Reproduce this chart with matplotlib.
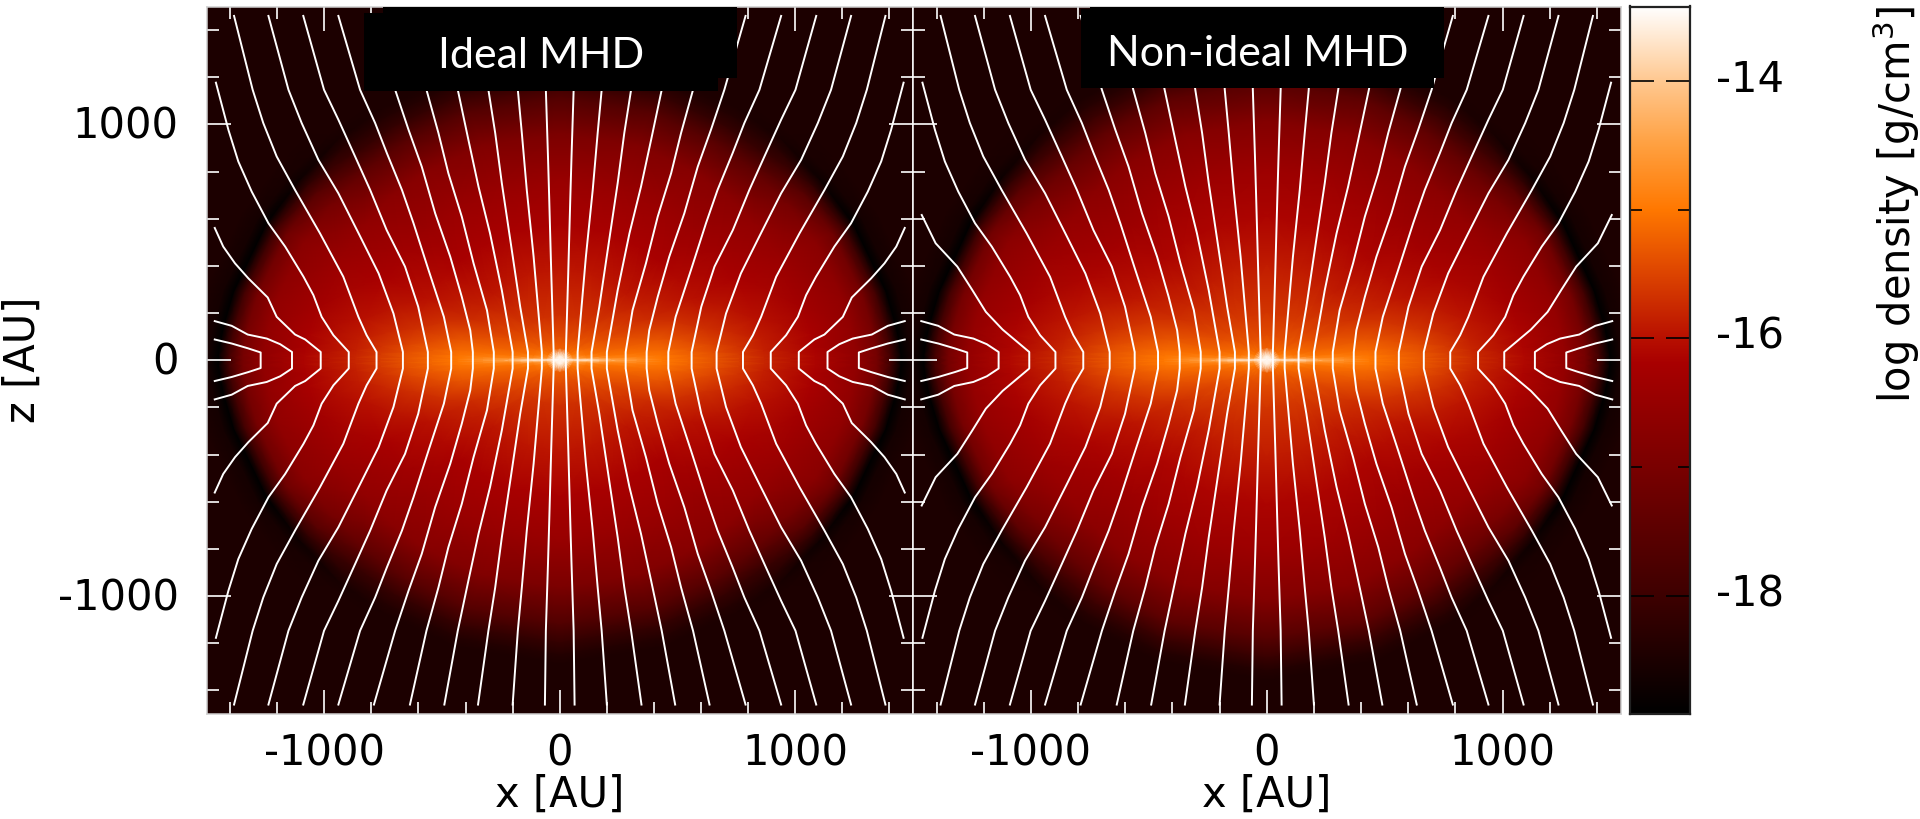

import numpy as np
import matplotlib
matplotlib.use('Agg')
from matplotlib import pyplot as plt
from matplotlib.colors import LinearSegmentedColormap
from matplotlib.patches import Rectangle
from matplotlib.ticker import MultipleLocator
from matplotlib.transforms import ScaledTranslation

plt.rcParams['axes.unicode_minus'] = False

panel_titles = ['Ideal MHD', 'Non-ideal MHD']
x_label = 'x [AU]'
z_label = 'z [AU]'
cbar_label = 'log density [g/cm$^{3}$]'
major_ticks = [-1000, 0, 1000]
cbar_ticks = [-18, -16, -14]
cbar_minor = [-17, -15]
vmin, vmax = -18.92, -13.42

# colour bar: log density, colour
cmap_levels = [-18.92, -18.5, -18.0, -17.0, -16.2, -16.0, -15.5, -15.0, -14.5, -14.0, -13.42]
cmap_colors = ['#000000', '#1c0000', '#3e0000', '#7a0000', '#a80000', '#b81000',
               '#dd4400', '#ff7800', '#ffa040', '#ffc890', '#ffffff']

# density table, one quadrant, angle above the midplane (deg) and radius as a
# fraction of the dark shell radius
angles = [0, 1, 3, 6, 12, 25, 35, 45, 55, 70, 90]
fractions = [0, .015, .04, .08, .15, .3, .45, .6, .75, .87, .93, .97, 1, 1.03, 1.08, 1.7]
shell_ideal = [1450, 1450, 1445, 1435, 1416, 1375, 1345, 1330, 1310, 1295, 1290]
shell_nonideal = [1455, 1455, 1450, 1440, 1420, 1385, 1365, 1360, 1360, 1360, 1360]
rho_ideal = [
    [-13.4, -13.45, -13.55, -13.7, -14.4, -15.0, -15.35, -15.8, -16.15, -16.6, -17.1, -18.0, -18.9, -18.6, -18.5, -18.5],
    [-13.4, -13.45, -13.6, -13.75, -14.5, -15.0, -15.35, -15.8, -16.15, -16.6, -17.1, -18.0, -18.9, -18.6, -18.5, -18.5],
    [-13.4, -13.5, -13.9, -14.2, -14.85, -15.05, -15.4, -15.85, -16.2, -16.6, -17.1, -18.0, -18.9, -18.6, -18.5, -18.5],
    [-13.4, -13.5, -14.3, -14.8, -15.05, -15.15, -15.5, -15.9, -16.2, -16.6, -17.1, -18.0, -18.9, -18.6, -18.5, -18.5],
    [-13.4, -13.55, -14.7, -15.05, -15.2, -15.35, -15.7, -16.0, -16.3, -16.6, -17.1, -18.0, -18.9, -18.6, -18.5, -18.5],
    [-13.4, -13.6, -15.0, -15.2, -15.4, -15.75, -16.0, -16.2, -16.45, -16.75, -17.2, -18.05, -18.9, -18.6, -18.5, -18.5],
    [-13.4, -13.65, -15.1, -15.3, -15.5, -15.85, -16.1, -16.35, -16.6, -17.1, -17.6, -18.2, -18.7, -18.55, -18.5, -18.5],
    [-13.4, -13.65, -15.15, -15.35, -15.6, -15.95, -16.2, -16.45, -16.75, -17.5, -18.1, -18.35, -18.55, -18.5, -18.5, -18.5],
    [-13.4, -13.65, -15.2, -15.4, -15.65, -15.95, -16.2, -16.45, -16.8, -17.6, -18.15, -18.4, -18.5, -18.5, -18.5, -18.5],
    [-13.4, -13.65, -15.25, -15.45, -15.7, -15.95, -16.2, -16.5, -16.9, -17.65, -18.15, -18.4, -18.5, -18.5, -18.5, -18.5],
    [-13.4, -13.65, -15.25, -15.45, -15.7, -15.95, -16.2, -16.5, -17.0, -17.7, -18.15, -18.4, -18.5, -18.5, -18.5, -18.5],
]
rho_nonideal = [
    [-13.4, -13.45, -13.55, -13.7, -14.4, -15.0, -15.3, -15.75, -16.1, -16.55, -17.1, -18.0, -18.9, -18.6, -18.5, -18.5],
    [-13.4, -13.45, -13.6, -13.75, -14.5, -15.0, -15.3, -15.75, -16.1, -16.55, -17.1, -18.0, -18.9, -18.6, -18.5, -18.5],
    [-13.4, -13.5, -13.9, -14.2, -14.85, -15.05, -15.35, -15.8, -16.15, -16.55, -17.1, -18.0, -18.9, -18.6, -18.5, -18.5],
    [-13.4, -13.5, -14.3, -14.8, -15.05, -15.15, -15.45, -15.85, -16.15, -16.55, -17.1, -18.0, -18.9, -18.6, -18.5, -18.5],
    [-13.4, -13.55, -14.7, -15.05, -15.2, -15.35, -15.65, -15.95, -16.25, -16.55, -17.1, -18.0, -18.9, -18.6, -18.5, -18.5],
    [-13.4, -13.6, -15.0, -15.2, -15.4, -15.7, -15.95, -16.15, -16.4, -16.7, -17.15, -18.05, -18.9, -18.6, -18.5, -18.5],
    [-13.4, -13.65, -15.1, -15.3, -15.5, -15.8, -16.05, -16.3, -16.55, -17.05, -17.55, -18.2, -18.7, -18.55, -18.5, -18.5],
    [-13.4, -13.65, -15.15, -15.35, -15.55, -15.9, -16.15, -16.4, -16.7, -17.35, -17.95, -18.3, -18.55, -18.5, -18.5, -18.5],
    [-13.4, -13.65, -15.2, -15.4, -15.6, -15.9, -16.15, -16.4, -16.75, -17.45, -18.05, -18.35, -18.5, -18.5, -18.5, -18.5],
    [-13.4, -13.65, -15.25, -15.45, -15.65, -15.9, -16.15, -16.4, -16.8, -17.5, -18.1, -18.4, -18.5, -18.5, -18.5, -18.5],
    [-13.4, -13.65, -15.25, -15.45, -15.65, -15.9, -16.15, -16.4, -16.85, -17.6, -18.1, -18.4, -18.5, -18.5, -18.5, -18.5],
]

# field lines, upper right quadrant only, from the top down to the midplane
line_x = [
    [63, 59, 50, 45, 36, 26, 26],
    [200, 178, 161, 140, 111, 76, 76],
    [347, 303, 274, 246, 210, 168, 135, 135],
    [490, 433, 388, 345, 296, 246, 200, 200],
    [636, 566, 515, 473, 416, 366, 309, 280, 280],
    [789, 699, 642, 586, 529, 465, 416, 380, 369, 369],
    [940, 848, 784, 734, 670, 621, 557, 492, 461, 461],
    [1089, 1001, 940, 869, 805, 735, 657, 601, 560, 560],
    [1237, 1152, 1096, 1025, 940, 847, 769, 706, 666, 666],
    [1383, 1304, 1259, 1202, 1124, 1018, 919, 855, 820, 778, 778],
    [1460, 1407, 1365, 1308, 1237, 1166, 1088, 1046, 1011, 961, 896, 896],
    [1465, 1429, 1379, 1322, 1240, 1202, 1124, 1081, 1015, 1015],
    [1465, 1393, 1325, 1244, 1187, 1137, 1137],
    [1465, 1393, 1322, 1270, 1270],
]
line_z = [
    [1460, 1147, 864, 694, 368, 35, 0],
    [1460, 1147, 963, 722, 439, 35, 0],
    [1460, 1147, 963, 751, 510, 227, 35, 0],
    [1460, 1147, 935, 736, 538, 297, 35, 0],
    [1460, 1147, 963, 793, 609, 411, 212, 35, 0],
    [1460, 1147, 977, 821, 623, 439, 269, 127, 35, 0],
    [1460, 1147, 1006, 878, 722, 581, 382, 184, 35, 0],
    [1460, 1147, 1020, 864, 722, 552, 397, 227, 35, 0],
    [1460, 1147, 1006, 850, 708, 524, 368, 198, 35, 0],
    [1460, 1147, 1006, 864, 722, 538, 354, 184, 106, 35, 0],
    [1177, 977, 843, 715, 581, 482, 354, 276, 184, 106, 35, 0],
    [561, 482, 411, 347, 266, 184, 109, 88, 35, 0],
    [166, 146, 109, 92, 68, 35, 0],
    [88, 71, 50, 33, 0],
]
# the one line that differs in the non-ideal run
line12_x_nonideal = [1463, 1404, 1312, 1250, 1191, 1120, 1007, 1007]
line12_z_nonideal = [616, 496, 397, 300, 205, 130, 35, 0]

W, H = 1920.0, 819.0
TICK = '#ffffff'
FRAME = '#cfcfcf'
FS = 30


def px_axes(l, t, r, b):
    # axes from pixel edges
    return fig.add_axes([l / W, 1 - b / H, (r - l) / W, (b - t) / H])


def shift_up(labels, px):
    for lbl in labels:
        lbl.set_transform(lbl.get_transform() + ScaledTranslation(0, px / 100.0, fig.dpi_scale_trans))


def draw_panel(ax, rho, shell, lx, lz):
    rho = np.array(rho)
    th = np.radians(angles)
    rr = np.outer(shell, fractions)
    X = rr * np.cos(th)[:, None]
    Z = rr * np.sin(th)[:, None]
    for sx in (1, -1):
        for sz in (1, -1):
            ax.pcolormesh(sx * X, sz * Z, rho, shading='gouraud', cmap=cmap,
                          vmin=vmin, vmax=vmax, antialiased=False)
    for xs, zs in zip(lx, lz):
        xs = np.array(xs, float)
        zs = np.array(zs, float)
        full_x = np.r_[xs, xs[::-1]]
        full_z = np.r_[zs, -zs[::-1]]
        for sx in (1, -1):
            ax.plot(sx * full_x, full_z, color='white', lw=1.4, solid_joinstyle='round')
    ax.set_xlim(-1500, 1500)
    ax.set_ylim(-1500, 1500)
    ax.xaxis.set_major_locator(MultipleLocator(1000))
    ax.yaxis.set_major_locator(MultipleLocator(1000))
    ax.xaxis.set_minor_locator(MultipleLocator(200))
    ax.yaxis.set_minor_locator(MultipleLocator(200))
    ax.set_xticks(major_ticks)
    ax.tick_params(which='both', direction='in', color=TICK, width=1.2,
                   top=True, right=True, labelsize=FS)
    ax.tick_params(which='major', length=17.3)
    ax.tick_params(which='minor', length=8.6)
    ax.tick_params(axis='x', which='major', pad=13)
    ax.tick_params(axis='y', which='major', pad=20)
    for s in ax.spines.values():
        s.set_color(FRAME)
        s.set_linewidth(1.1)


cmap = LinearSegmentedColormap.from_list(
    'density', [((v - vmin) / (vmax - vmin), c) for v, c in zip(cmap_levels, cmap_colors)], N=512)

fig = plt.figure(figsize=(19.2, 8.19), dpi=100)

ax1 = px_axes(206.5, 6.5, 913, 714)
ax2 = px_axes(913, 6.5, 1620.5, 714)
draw_panel(ax1, rho_ideal, shell_ideal, line_x, line_z)
x2 = line_x[:11] + [line12_x_nonideal] + line_x[12:]
z2 = line_z[:11] + [line12_z_nonideal] + line_z[12:]
draw_panel(ax2, rho_nonideal, shell_nonideal, x2, z2)
ax2.tick_params(axis='y', which='both', labelleft=False)
ax1.spines['right'].set_color('white')
ax2.spines['left'].set_color('white')
shift_up(ax1.get_yticklabels(), 2)

# colour bar
cax = px_axes(1630, 6.5, 1689.5, 714)
cax.imshow(np.linspace(vmax, vmin, 512)[:, None], cmap=cmap, aspect='auto',
           extent=[0, 1, vmin, vmax], vmin=vmin, vmax=vmax)
cax.set_xticks([])
cax.set_yticks(cbar_ticks)
cax.set_yticks(cbar_minor, minor=True)
cax.yaxis.tick_right()
cax.tick_params(which='both', direction='in', left=True, right=True, width=1.2, color='black')
cax.tick_params(which='major', length=17.3, labelsize=FS, pad=19)
cax.tick_params(which='minor', length=8.6)
for s in cax.spines.values():
    s.set_linewidth(1.6)
    s.set_color('#222222')
shift_up(cax.get_yticklabels(), 6)

# axis labels, placed in pixels
for xc in (559.5, 1267):
    fig.text(xc / W, 1 - 807 / H, x_label, fontsize=FS, ha='center', va='baseline')
fig.text(35 / W, 1 - 360 / H, z_label, fontsize=FS, rotation=90, ha='center', va='baseline',
         rotation_mode='anchor')
fig.text(1911 / W, 1 - 204 / H, cbar_label, fontsize=FS, rotation=90, ha='center', va='baseline',
         rotation_mode='anchor')

# black boxes behind the panel titles, two overlapping rectangles each
boxes = [[(383, 7, 737, 78), (364, 13, 718, 91)],
         [(1090, 7, 1444, 78), (1081, 9, 1434, 88)]]
for pair in boxes:
    for (l, t, r, b) in pair:
        fig.add_artist(Rectangle((l / W, 1 - b / H), (r - l) / W, (b - t) / H,
                                 transform=fig.transFigure, facecolor='black', edgecolor='none', zorder=5))
for name, xc, base in zip(panel_titles, (541, 1258), (68, 66)):
    fig.text(xc / W, 1 - base / H, name, fontsize=31, family='Lato', color='white',
             ha='center', va='baseline', zorder=6)

plt.savefig('out.png', dpi=100)
